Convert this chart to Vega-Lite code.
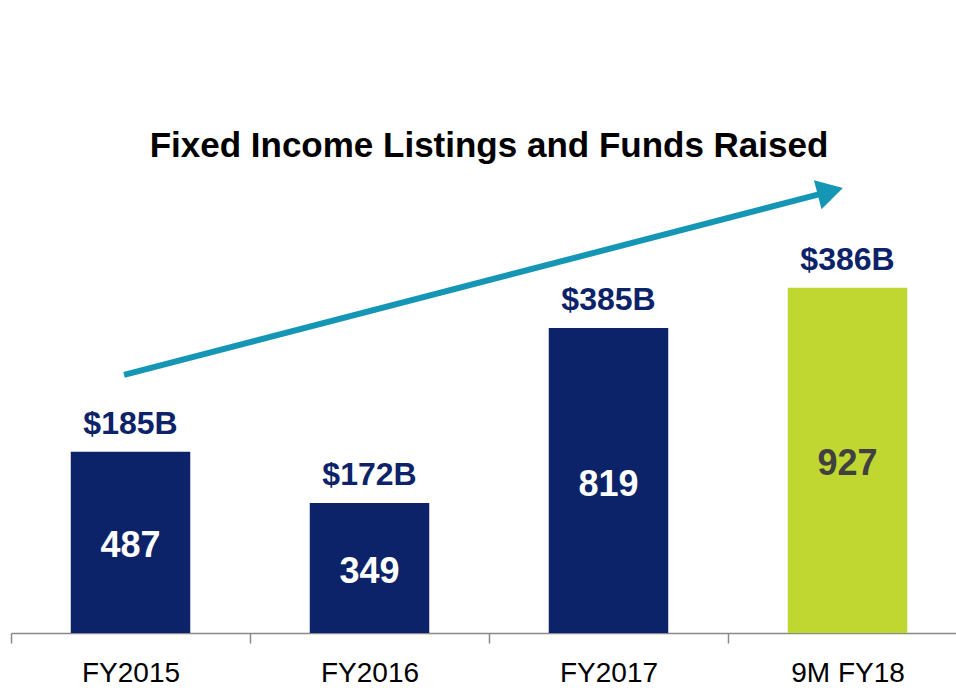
{
  "$schema": "https://vega.github.io/schema/vega-lite/v6.json",
  "autosize": {"type": "none"},
  "width": 956,
  "height": 458,
  "padding": {"left": 11, "top": 175, "right": 0, "bottom": 57},
  "background": "white",
  "config": {"view": {"stroke": null}, "font": "Liberation Sans"},
  "title": {
    "text": "Fixed Income Listings and Funds Raised",
    "font": "Liberation Sans",
    "fontSize": 35,
    "fontWeight": "bold",
    "color": "#000000",
    "anchor": "middle",
    "offset": 11
  },
  "datasets": {
    "bars": [
      {"period": "FY2015", "listings": 487, "raised": "$185B", "kind": "full"},
      {"period": "FY2016", "listings": 349, "raised": "$172B", "kind": "full"},
      {"period": "FY2017", "listings": 819, "raised": "$385B", "kind": "full"},
      {"period": "9M FY18", "listings": 927, "raised": "$386B", "kind": "partial"}
    ],
    "arrow": [
      {"ax": 0.473, "ay": 693},
      {"ax": 3.428, "ay": 1186}
    ],
    "head": [
      {"ax": 3.428, "ay": 1186}
    ]
  },
  "layer": [
    {
      "data": {"name": "bars"},
      "encoding": {
        "x": {
          "field": "period", "type": "nominal", "sort": null,
          "scale": {"paddingInner": 0, "paddingOuter": 0},
          "axis": {
            "title": null, "labelAngle": 0, "labelFont": "Liberation Sans", "labelFontSize": 28,
            "labelColor": "#000000", "labelPadding": 16, "tickBand": "extent",
            "domainColor": "#898989", "domainWidth": 1.5, "tickColor": "#898989", "tickWidth": 1.5,
            "tickSize": 10, "grid": false
          }
        },
        "y": {
          "field": "listings", "type": "quantitative",
          "scale": {"domain": [0, 1230], "nice": false},
          "axis": null
        }
      },
      "layer": [
        {
          "mark": {"type": "bar", "width": {"band": 0.5}},
          "encoding": {
            "color": {
              "field": "kind", "type": "nominal",
              "scale": {"domain": ["full", "partial"], "range": ["#0D2369", "#BFD730"]},
              "legend": null
            }
          }
        },
        {
          "mark": {"type": "text", "font": "Liberation Sans", "fontSize": 32, "fontWeight": "bold", "color": "#0D2369", "baseline": "alphabetic", "dy": -18},
          "encoding": {"text": {"field": "raised"}}
        },
        {
          "transform": [{"calculate": "datum.listings / 2", "as": "mid"}],
          "mark": {"type": "text", "font": "Liberation Sans", "fontSize": 36, "fontWeight": "bold", "baseline": "middle", "dy": 4},
          "encoding": {
            "y": {"field": "mid", "type": "quantitative"},
            "text": {"field": "listings"},
            "color": {
              "condition": {"test": "datum.kind === 'partial'", "value": "#404040"},
              "value": "#FFFFFF"
            }
          }
        }
      ]
    },
    {
      "data": {"name": "arrow"},
      "mark": {"type": "line", "color": "#1596B4", "strokeWidth": 6, "strokeCap": "butt"},
      "encoding": {
        "x": {"field": "ax", "type": "quantitative", "scale": {"domain": [0, 4], "nice": false, "zero": false}, "axis": null},
        "y": {"field": "ay", "type": "quantitative"}
      }
    },
    {
      "data": {"name": "head"},
      "mark": {"type": "point", "shape": "triangle-right", "filled": true, "color": "#1596B4", "opacity": 1, "size": 900, "angle": 345.4},
      "encoding": {
        "x": {"field": "ax", "type": "quantitative", "scale": {"domain": [0, 4], "nice": false, "zero": false}, "axis": null},
        "y": {"field": "ay", "type": "quantitative"}
      }
    }
  ],
  "resolve": {"scale": {"x": "independent"}}
}
